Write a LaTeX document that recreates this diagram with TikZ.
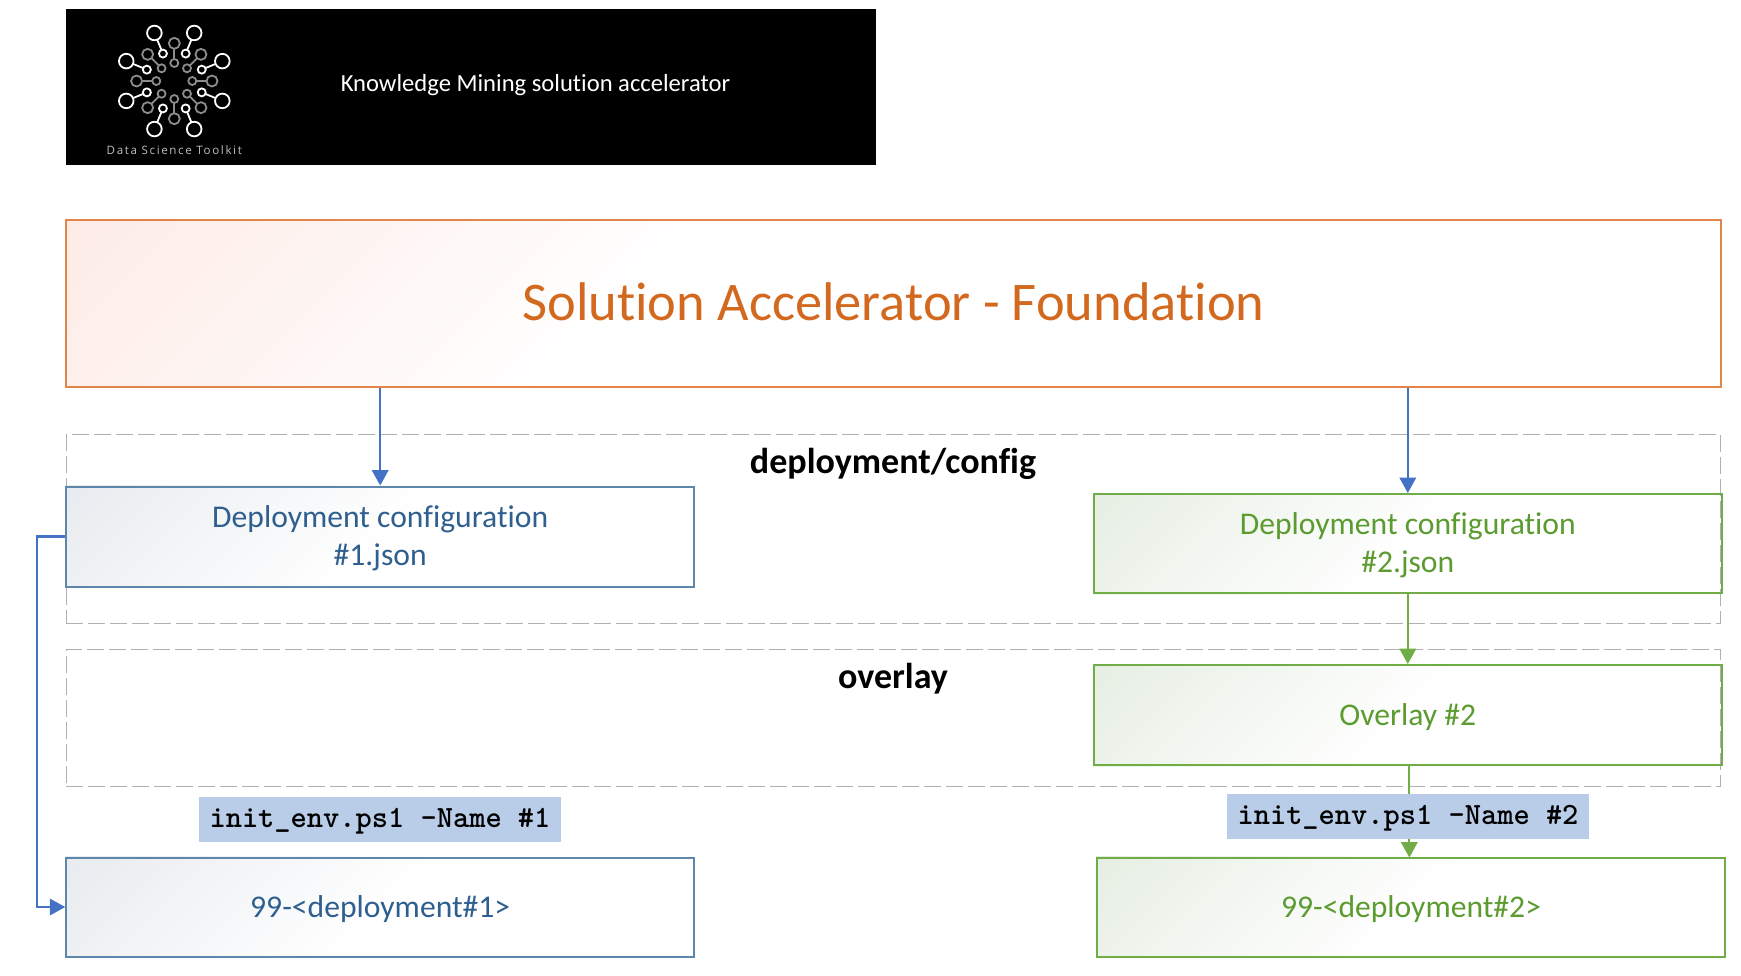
\documentclass[tikz,border=0pt]{standalone}
\usepackage{fontspec}
\setmainfont[Ligatures=NoCommon]{Carlito}
\newfontfamily\logofont[LetterSpace=14]{Open Sans}
\usetikzlibrary{arrows.meta,backgrounds,calc}
\definecolor{orangeline}{HTML}{E3844A}
\definecolor{orangetext}{HTML}{D2691F}
\definecolor{orangefade}{HTML}{FDEBE6}
\definecolor{blueline}{HTML}{5F86AB}
\definecolor{bluetext}{HTML}{2F5F8F}
\definecolor{bluefade}{HTML}{E8EBEF}
\definecolor{greenline}{HTML}{70AD47}
\definecolor{greentext}{HTML}{5B9B2F}
\definecolor{greenfade}{HTML}{E6EEE3}
\definecolor{arrowblue}{HTML}{4472C4}
\definecolor{cmdfill}{HTML}{B9CDE8}
\definecolor{dashgray}{HTML}{B0B0B0}
\def\nudge#1#2{\raisebox{#1}[\height][\depth]{#2}}
\def\fadeback#1#2#3{\begin{scope}[on background layer]\begin{scope}
	\clip (#1.north west) rectangle (#1.south east);
	\shade[transform canvas={rotate around={-45:(#1.north west)}}, left color=#2, right color=white] (#1.north west) ++(0cm, -#3) rectangle ++(#3, 2*#3);
\end{scope}\end{scope}}
\tikzset{
	stagebox/.style={draw, line width=0.04cm, inner sep=0pt, align=center, font=\fontsize{18}{21.7}\selectfont},
	bluebox/.style={stagebox, draw=blueline, text=bluetext},
	greenbox/.style={stagebox, draw=greenline, text=greentext},
	groupbox/.style={draw=dashgray, line width=0.025cm, dash pattern=on 0.34cm off 0.1cm, inner sep=0pt, minimum width=33.1cm},
	grouplabel/.style={font=\fontsize{20.5}{24}\selectfont\bfseries},
	cmdlabel/.style={fill=cmdfill, inner sep=0pt, minimum width=7.26cm, minimum height=0.9cm, font=\fontsize{17.6}{22}\selectfont\ttfamily\bfseries},
	bluearrow/.style={draw=arrowblue, line width=0.045cm, -{Triangle[length=0.31cm, width=0.33cm]}},
	greenarrow/.style={draw=greenline, line width=0.045cm, -{Triangle[length=0.31cm, width=0.33cm]}},
	spoke/.style={line width=0.036cm}
}
\begin{document}
\begin{tikzpicture}[x=0.02cm, y=-0.02cm]
	%%%%% START %%%%%
	\useasboundingbox (0, 0) rectangle (1741, 975);

	\node[fill=black, inner sep=0pt, minimum width=16.2cm, minimum height=3.12cm] (banner) at (471, 87) {};
	\foreach \a in {22.5, 67.5, ..., 337.5} {
		\draw[spoke, white] (174.3, 81) ++(\a:29.7) circle (4);
		\draw[spoke, white] (174.3, 81) ++(\a:52) circle (7.3);
		\draw[spoke, white] ($(174.3, 81) + (\a:33.7)$) -- ($(174.3, 81) + (\a:44.7)$);
	}
	\foreach \a in {0, 45, ..., 315} {
		\draw[spoke, white!55!black] (174.3, 81) ++(\a:18) circle (4);
		\draw[spoke, white!55!black] (174.3, 81) ++(\a:37.7) circle (5.5);
		\draw[spoke, white!55!black] ($(174.3, 81) + (\a:22)$) -- ($(174.3, 81) + (\a:32.2)$);
	}
	\node[text=white!75!black, font=\fontsize{6.6}{8}\selectfont\logofont] (toolkit) at (174.3, 150) {Data Science Toolkit};
	\node[text=white, font=\fontsize{14}{17}\selectfont] (bannertitle) at (535.5, 85) {Knowledge Mining solution accelerator};

	\node[draw=orangeline, line width=0.04cm, inner sep=0pt, minimum width=33.1cm, minimum height=3.34cm, text=orangetext, font=\fontsize{31}{36}\selectfont] (foundation) at (893.5, 303.5) {\nudge{0.035cm}{Solution Accelerator - Foundation}};

	\node[groupbox, minimum height=3.77cm] (configgroup) at (893.5, 529) {};
	\node[groupbox, minimum height=2.75cm] (overlaygroup) at (893.5, 718) {};
	\node[grouplabel] (configlabel) at (893, 464) {deployment/config};
	\node[grouplabel] (overlaylabel) at (893, 679) {overlay};

	\node[bluebox, minimum width=12.56cm, minimum height=2cm] (conf1) at (380.2, 536.5) {\nudge{-0.035cm}{Deployment configuration}\\\nudge{-0.035cm}{\#1.json}};
	\node[greenbox, minimum width=12.56cm, minimum height=1.98cm] (conf2) at (1407.8, 543.5) {\nudge{-0.03cm}{Deployment configuration}\\\nudge{-0.03cm}{\#2.json}};
	\node[greenbox, minimum width=12.56cm, minimum height=2cm] (over2) at (1407.8, 715) {\nudge{-0.045cm}{Overlay \#2}};
	\node[bluebox, minimum width=12.56cm, minimum height=1.98cm] (depl1) at (380.2, 907) {\nudge{-0.045cm}{99-<deployment\#1>}};
	\node[greenbox, minimum width=12.56cm, minimum height=1.98cm] (depl2) at (1411, 907) {\nudge{-0.045cm}{99-<deployment\#2>}};

	\fadeback{foundation}{orangefade}{9.2cm}
	\fadeback{conf1}{bluefade}{5.3cm}
	\fadeback{conf2}{greenfade}{5.3cm}
	\fadeback{over2}{greenfade}{5.3cm}
	\fadeback{depl1}{bluefade}{5.3cm}
	\fadeback{depl2}{greenfade}{5.3cm}

	\coordinate (tap2) at (1409.3, 857.5);
	\coordinate (rail) at (37, 536.5);

	\draw[bluearrow] (conf1.north |- foundation.south) -- (conf1.north);
	\draw[bluearrow] (conf2.north |- foundation.south) -- (conf2.north);
	\draw[greenarrow] (conf2) -- (over2);
	\draw[greenarrow] (tap2 |- over2.south) -- (tap2);
	\draw[bluearrow] (conf1.west) -- (rail) |- (depl1.west);

	\node[cmdlabel] (cmd1) at (380, 819) {\nudge{-0.045cm}{init\_env.ps1 -Name \#1}};
	\node[cmdlabel] (cmd2) at (1408, 816) {\nudge{-0.045cm}{init\_env.ps1 -Name \#2}};
	%%%%% END %%%%%
\end{tikzpicture}
\end{document}
